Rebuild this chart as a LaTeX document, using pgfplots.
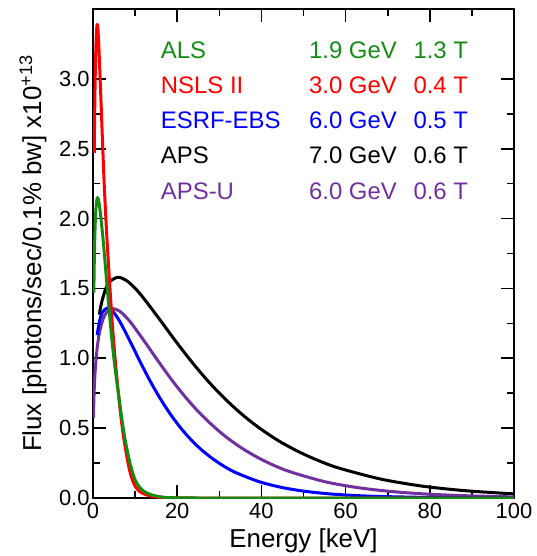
\documentclass[border=0pt]{standalone}
\usepackage{fontspec}
\setmainfont{Liberation Sans}
\usepackage{pgfplots}
\pgfplotsset{compat=1.18}
\definecolor{alsgreen}{RGB}{20,140,20}
\definecolor{apsupurple}{RGB}{112,48,160}
\tikzset{legtxt/.style={anchor=base west, font=\fontsize{24}{28}\selectfont}}

\begin{document}
\begin{tikzpicture}
\path[use as bounding box] (-93bp,-58bp) rectangle (444bp,498bp);
\begin{axis}[
  scale only axis, width=421bp, height=489bp,
  at={(0,0)}, anchor=south west,
  xmin=0, xmax=100, ymin=0, ymax=3.5,
  xtick={0,20,...,100}, minor x tick num=1,
  ytick={0,0.5,...,3.0}, minor y tick num=1,
  tick align=inside,
  major tick length=13bp, minor tick length=7bp,
  every tick/.style={black, line width=1.6bp},
  axis line style={line width=2.2bp},
  /pgf/number format/assume math mode=true,
  ticklabel style={font=\fontsize{22}{26}\selectfont},
  yticklabel style={/pgf/number format/.cd, fixed, fixed zerofill, precision=1},
  xticklabel style={yshift=-2bp},
  xlabel={Energy [keV]},
  ylabel={Flux [photons/sec/0.1\% bw] x10\textsuperscript{+13}},
  label style={font=\fontsize{26}{30}\selectfont},
  xlabel style={at={(axis description cs:0.5,-0.102)}, anchor=base},
  ylabel style={at={(axis description cs:-0.1425,0.5)}, anchor=center},
  every axis plot/.append style={line width=3bp, line join=round, smooth, mark=none},
]
% APS
\addplot[black] coordinates {
 (1.5,1.312) (1.955,1.388) (2.93,1.491) (3.91,1.546) (5.865,1.58) (7.82,1.559)
 (9.775,1.508) (11.73,1.441) (15.64,1.286) (19.55,1.126) (23.46,0.974)
 (27.37,0.835) (31.28,0.712) (35.19,0.604) (39.1,0.510) (43.99,0.411)
 (48.875,0.331) (53.76,0.265) (58.65,0.212) (68.425,0.135) (78.2,0.085)
 (87.975,0.0534) (97.75,0.0334) (100,0.030)};
% APS-U
\addplot[apsupurple] coordinates {
 (0.1,0.571) (0.158,0.653) (0.316,0.796) (0.474,0.890) (0.79,1.016)
 (1.185,1.119) (1.58,1.190) (2.37,1.279) (3.16,1.326) (4.74,1.355)
 (6.32,1.337) (7.9,1.293) (9.48,1.236) (12.64,1.103) (15.8,0.966)
 (18.96,0.835) (22.12,0.716) (25.28,0.610) (28.44,0.518) (31.6,0.437)
 (35.55,0.353) (39.5,0.284) (43.45,0.227) (47.4,0.182) (55.3,0.115)
 (63.2,0.0729) (71.1,0.0458) (79.0,0.0287) (86.9,0.0179) (94.8,0.0111)
 (100,0.0081)};
% ESRF-EBS
\addplot[blue] coordinates {
 (1.0,1.165) (1.13,1.195) (1.695,1.284) (2.26,1.331) (3.39,1.36) (4.52,1.342)
 (5.65,1.298) (6.78,1.241) (9.04,1.107) (11.3,0.969) (13.56,0.838)
 (15.82,0.719) (18.08,0.613) (20.34,0.520) (22.6,0.439) (25.425,0.354)
 (28.25,0.285) (31.075,0.228) (33.9,0.182) (39.55,0.116) (45.2,0.0732)
 (50.85,0.046) (56.5,0.0288) (62.15,0.018) (67.8,0.0112) (79.1,0.0043)
 (90.4,0.0016) (100,0.0007)};
% NSLS II
\addplot[red] coordinates {
 (0.3,2.47) (0.4,2.76) (0.5,2.97) (0.6,3.12) (0.7,3.24) (0.8,3.32) (0.9,3.37)
 (1.0,3.39) (1.15,3.36) (1.35,3.26) (1.67,3.02) (2.0,2.76) (2.3,2.52)
 (2.7,2.22) (3.2,1.92) (3.7,1.66) (4.2,1.42) (4.7,1.20) (5.3,0.98) (6.0,0.76)
 (6.6,0.59) (7.2,0.45) (7.9,0.32) (8.6,0.21) (9.3,0.135) (10.0,0.085)
 (11.0,0.048) (12.3,0.027) (14,0.012) (16,0.004) (19,0.001) (24,0) (40,0) (100,0)};
% ALS
\addplot[alsgreen] coordinates {
 (0.2,1.47) (0.3,1.68) (0.4,1.83) (0.5,1.94) (0.6,2.02) (0.75,2.09) (0.9,2.13)
 (1.05,2.15) (1.25,2.14) (1.5,2.10) (1.75,2.04) (2.0,1.97) (2.4,1.85)
 (2.8,1.71) (3.3,1.53) (3.8,1.36) (4.4,1.16) (5.0,0.99) (5.8,0.80) (6.7,0.60)
 (7.5,0.44) (8.2,0.33) (9.0,0.225) (10.0,0.13) (11.0,0.08) (12.0,0.05)
 (13.5,0.027) (15,0.014) (17,0.005) (20,0.0012) (25,0) (40,0) (100,0)};

\node[legtxt, text=alsgreen]   at (axis cs:15.3,3.148) {ALS};
\node[legtxt, text=alsgreen]   at (axis cs:50.5,3.148) {1.9 GeV};
\node[legtxt, text=alsgreen]   at (axis cs:75.3,3.148) {1.3 T};
\node[legtxt, text=red]        at (axis cs:15.3,2.895) {NSLS II};
\node[legtxt, text=red]        at (axis cs:50.5,2.895) {3.0 GeV};
\node[legtxt, text=red]        at (axis cs:75.3,2.895) {0.4 T};
\node[legtxt, text=blue]       at (axis cs:15.3,2.643) {ESRF-EBS};
\node[legtxt, text=blue]       at (axis cs:50.5,2.643) {6.0 GeV};
\node[legtxt, text=blue]       at (axis cs:75.3,2.643) {0.5 T};
\node[legtxt, text=black]      at (axis cs:15.3,2.391) {APS};
\node[legtxt, text=black]      at (axis cs:50.5,2.391) {7.0 GeV};
\node[legtxt, text=black]      at (axis cs:75.3,2.391) {0.6 T};
\node[legtxt, text=apsupurple] at (axis cs:15.3,2.139) {APS-U};
\node[legtxt, text=apsupurple] at (axis cs:50.5,2.139) {6.0 GeV};
\node[legtxt, text=apsupurple] at (axis cs:75.3,2.139) {0.6 T};
\end{axis}
\end{tikzpicture}
\end{document}
